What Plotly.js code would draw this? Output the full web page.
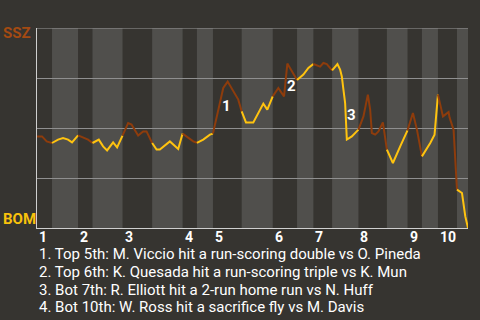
<!DOCTYPE html>
<html>
<head>
<meta charset="utf-8">
<script src="https://cdn.plot.ly/plotly-3.0.1.min.js"></script>
<style>html,body{margin:0;padding:0;background:#363430;}#chart{width:480px;height:320px;}</style>
</head>
<body>
<div id="chart"></div>
<script>
// Game progress (position along the game) and SSZ win probability (%)
const progress = [0,5,9.7,15, 21,26,31,35,41, 46,51,55.4, 61.7,66,70,76,80,85.4,
  91,94.4,101,106,109.4,115, 119.4,122.7,132.7,141,145.4, 156,159.7, 166,172.7,175.7,
  178.7,186,190.4,196,201,204.4, 208.7,216,222.7,226,230,235.4,
  241,243.4,246.7,250,253.4,259.7, 266,271,276, 279.7,282.7,286,289.4,294.7,
  300,302.7,304.4,306,307.7,309.4,314.4,321, 326,330.4,332.7,334.4,337.7,341,345.4,349.4,
  355.4,362.7,370, 375.4,379.4,384.4, 392.7,397,398.7,400.4,
  405.4,407.7,411,412,416,419.4, 424.4,427.7,430.4];
const sszWinPct = [45.8,45.8,43.3,42.5, 44.2,45,44.2,42.8,46.3, 45.4,44.2,42.5, 44.2,40.8,38.8,42.8,40.3,46.2,
  52.5,51.7,46.2,48.3,48.3,42.5, 39.2,39.2,43.3,39.5,47.2, 43.3,42.6, 44.2,46.7,47.2,
  54.2,70,73.2,68.2,64.2,58.3, 52.8,52.8,59.2,62.2,59.2,65.8,
  70,68.2,65.8,82.2,79.2,74, 76.7,80,82, 81.2,80.7,82.5,82,78.8,
  82,79.2,75.8,69.2,62.5,44.2,45.8,49.2, 55.8,66.7,59.2,47.5,46.7,48.3,52.8,39.2,
  32.5,40.8,48.8, 57.5,49.2,35.8, 42.5,46.7,58.3,66.7,
  55.8,56.7,58,55.2,49.2,19.2, 17.5,5.8,0];
// Start of each half inning (top 1, bottom 1, top 2, ...) and end of game
const halfStarts = [0,15,41,55.4,85.4,115,145.4,159.7,175.7,204.4,235.4,259.7,276,294.7,321,349.4,370,384.4,400.4,419.4,430.4];
const inningLabels = ['1','2','3','4','5','6','7','8','9','10'];
const teams = ['SSZ','BOM'];
const eventMarks = [
  {label:'1', x:189.2, y:61.2},
  {label:'2', x:254.2, y:71.2},
  {label:'3', x:313.7, y:56.7},
  {label:'4', x:434.2, y:5.2}
];
const captions = [
  '1. Top 5th: M. Viccio hit a run-scoring double vs O. Pineda',
  '2. Top 6th: K. Quesada hit a run-scoring triple vs K. Mun',
  '3. Bot 7th: R. Elliott hit a 2-run home run vs N. Huff',
  '4. Bot 10th: W. Ross hit a sacrifice fly vs M. Davis'
];

const BROWN = '#8e3c0c', YELLOW = '#ffc30f';
const BG = '#363430', STRIPE = '#504f4c';

const traces = [];
for (let i = 0; i < halfStarts.length - 1; i++) {
  const xs = [], ys = [];
  for (let k = 0; k < progress.length; k++) {
    if (progress[k] >= halfStarts[i] - 1e-9 && progress[k] <= halfStarts[i+1] + 1e-9) {
      xs.push(progress[k]); ys.push(sszWinPct[k]);
    }
  }
  traces.push({x: xs, y: ys, type: 'scatter', mode: 'lines', hoverinfo: 'skip',
    line: {color: i % 2 === 0 ? BROWN : YELLOW, width: 2}, showlegend: false});
}

const shapes = [];
for (let i = 1; i < halfStarts.length - 1; i += 2) {
  shapes.push({type: 'rect', layer: 'below', xref: 'x', yref: 'paper',
    x0: halfStarts[i], x1: halfStarts[i+1], y0: 0, y1: 1, fillcolor: STRIPE, line: {width: 0}});
}
shapes.push({type:'line', layer:'above', xref:'paper', yref:'y', x0:0, x1:1, y0:100, y1:100, line:{color:'#9a9a9a', width:1}});

const annotations = [];
for (let n = 0; n < inningLabels.length; n++) {
  annotations.push({text: inningLabels[n], x: halfStarts[2*n], xref: 'x', xanchor: 'left', xshift: 0,
    y: 0, yref: 'paper', yanchor: 'top', yshift: 1, showarrow: false,
    font: {family: 'Roboto', size: 14, color: '#ffffff', weight: 'bold'}});
}
eventMarks.forEach(m => annotations.push({text: m.label, x: m.x, y: m.y, xref: 'x', yref: 'y',
  showarrow: false, font: {family: 'Roboto', size: 15, color: '#ffffff', weight: 'bold'}}));
annotations.push({text: teams[0], xref: 'paper', yref: 'paper', x: -0.0835, xanchor: 'left', y: 0.974, yanchor: 'middle',
  showarrow: false, font: {family: 'Roboto', size: 15, color: '#a44a12', weight: 'bold'}});
annotations.push({text: teams[1], xref: 'paper', yref: 'paper', x: -0.0835, xanchor: 'left', y: 0.045, yanchor: 'middle',
  showarrow: false, font: {family: 'Roboto', size: 15, color: '#f9c20c', weight: 'bold'}});
captions.forEach((c, i) => annotations.push({text: c, xref: 'paper', yref: 'paper', x: 0.0, xanchor: 'left',
  y: -0.13 - i * 0.089, yanchor: 'middle', showarrow: false,
  font: {family: 'Roboto', size: 15, color: '#ffffff'}}));

const layout = {
  width: 480, height: 320,
  margin: {l: 37, r: 12, t: 28, b: 92, pad: 0},
  paper_bgcolor: BG, plot_bgcolor: BG,
  xaxis: {range: [0, 430.4], showgrid: false, zeroline: false, showticklabels: false, ticks: '',
    showline: true, linecolor: '#cfcfcf', linewidth: 1, fixedrange: true},
  yaxis: {range: [0, 100], tickvals: [0, 25, 50, 75, 100], showgrid: true, gridcolor: '#8f8f8f', gridwidth: 1,
    zeroline: false, showticklabels: false, ticks: '', showline: true, linecolor: '#cfcfcf', linewidth: 1, fixedrange: true},
  shapes: shapes,
  annotations: annotations,
  showlegend: false
};

Plotly.newPlot('chart', traces, layout, {displayModeBar: false, staticPlot: true});
</script>
</body>
</html>
